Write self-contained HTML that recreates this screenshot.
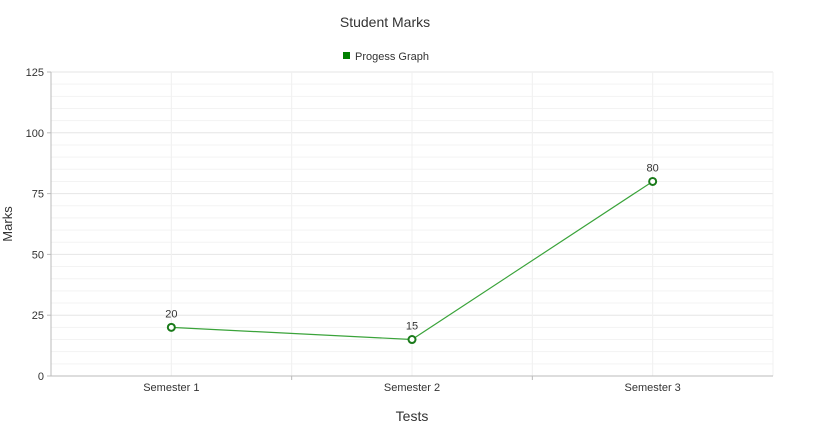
<!DOCTYPE html>
<html><head><meta charset="utf-8"><style>
body{margin:0;background:#fff;}
svg{display:block;font-family:"Liberation Sans",Arial,sans-serif;}
</style></head><body>
<svg id="chart" width="818" height="436"></svg>
<script>
const categories=["Semester 1","Semester 2","Semester 3"];
const marks=[20,15,80];
const yTicks=[0,25,50,75,100,125];
const svg=document.getElementById('chart');
const NS='http://www.w3.org/2000/svg';
const L=51,R=773,T=72,B=376,yMax=125;
const band=(R-L)/categories.length;
const xs=i=>L+band*(i+0.5);
const ys=v=>B-(v/yMax)*(B-T);
function mk(tag,attrs,parent){const e=document.createElementNS(NS,tag);for(const k in attrs)e.setAttribute(k,attrs[k]);(parent||svg).appendChild(e);return e;}
function txt(x,y,s,size,fill,anchor,name){const t=mk('text',{x:x,y:y,'font-size':size,fill:fill,'text-anchor':anchor||'middle'});t.textContent=s;


return t;}
txt(385,27,"Student Marks",14,"#333","middle","chart-title");
const lg=mk('rect',{x:343,y:52,width:7,height:7,fill:'#008000'});


txt(355,60,"Progess Graph",11,"#333","start","legend-entry");
// minor grid
for(let v=0;v<=yMax;v+=5){const l=mk('line',{x1:L,x2:R,y1:ys(v),y2:ys(v),stroke:v%25===0?'#e6e6e6':'#f3f3f3','stroke-width':1});

}
for(let i=0;i<=categories.length*2;i++){const x=L+band*i/2;const l=mk('line',{x1:x,x2:x,y1:T,y2:B,stroke:'#f0f0f0'});

}
const ya=mk('line',{x1:L,x2:L,y1:T,y2:B,stroke:'#bbb'});


const xa=mk('line',{x1:L,x2:R,y1:B,y2:B,stroke:'#bbb'});


yTicks.forEach(v=>{mk('line',{x1:L-4,x2:L,y1:ys(v),y2:ys(v),stroke:'#bbb'});txt(L-7,ys(v)+4,String(v),11,"#333","end","y-tick-label");});
for(let i=1;i<categories.length;i++){mk('line',{x1:L+band*i,x2:L+band*i,y1:B,y2:B+4,stroke:'#bbb'});}
categories.forEach((c,i)=>txt(xs(i),B+15,c,11,"#333","middle","x-tick-label"));
const yt=txt(12,224,"Marks",13,"#333","middle","y-axis-title");yt.setAttribute('transform','rotate(-90 12 224)');
txt(412,421,"Tests",14,"#333","middle","x-axis-title");
const pl=mk('polyline',{points:marks.map((v,i)=>xs(i)+','+ys(v)).join(' '),fill:'none',stroke:'#3aa33a','stroke-width':1.2});


marks.forEach((v,i)=>{const c=mk('circle',{cx:xs(i),cy:ys(v),r:3.5,fill:'#fff',stroke:'#1a7a1a','stroke-width':2});


txt(xs(i),ys(v)-10,String(v),11,"#333","middle","value-label");});
</script>
</body></html>
